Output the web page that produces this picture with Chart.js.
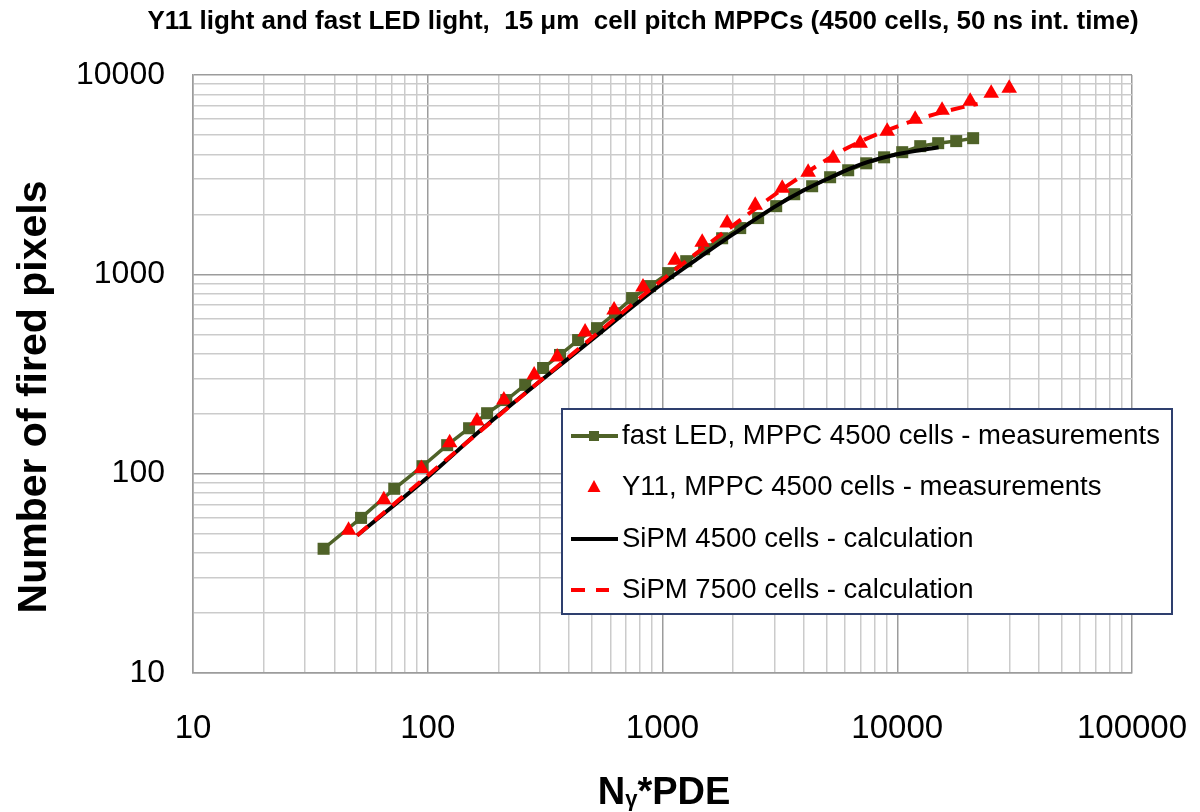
<!DOCTYPE html>
<html>
<head>
<meta charset="utf-8">
<script src="https://cdn.jsdelivr.net/npm/chart.js@4"></script>
<style>
  html, body { margin: 0; padding: 0; background: #fff; }
</style>
</head>
<body>
<canvas id="firedChart" width="1200" height="812"></canvas>
<script>
// fast LED, MPPC 4500 cells - measurements
const fastLedX = [36, 52, 72, 95, 121, 150, 179, 216, 260, 310, 366, 437, 526, 628, 742, 885, 1057, 1262, 1504, 1795, 2143, 2555, 3050, 3640, 4340, 5177, 6180, 7375, 8790, 10500, 12530, 14940, 17830, 21050];
const fastLedY = [42, 60, 84, 109, 139, 169, 201, 234, 279, 339, 394, 468, 537, 638, 760, 873, 1014, 1164, 1337, 1517, 1706, 1915, 2198, 2523, 2767, 3070, 3327, 3606, 3864, 4100, 4395, 4550, 4660, 4820];

// Y11, MPPC 4500 cells - measurements
const y11X = [46, 65, 94, 124, 162, 211, 284, 356, 468, 622, 826, 1132, 1476, 1885, 2483, 3236, 4172, 5330, 6950, 9060, 11920, 15520, 20450, 25130, 29980];
const y11Y = [52, 74, 106, 143, 184, 234, 313, 385, 513, 662, 863, 1178, 1449, 1807, 2221, 2706, 3251, 3820, 4546, 5225, 5998, 6656, 7386, 8090, 8577];

// SiPM 4500 cells - calculation
const calc4500X = [50, 100, 167, 300, 500, 800, 1000, 1500, 2000, 3000, 4000, 5000, 7000, 10000, 15000];
const calc4500Y = [49, 96, 164, 290, 470, 735, 900, 1260, 1590, 2180, 2640, 3000, 3560, 4000, 4340];

// SiPM 7500 cells - calculation
const calc7500X = [50, 100, 200, 500, 1000, 2000, 3500, 6000, 11000, 19000, 22000];
const calc7500Y = [49, 98, 195, 480, 940, 1760, 2850, 4250, 5750, 6900, 7150];

const xMajorTicks = [10, 100, 1000, 10000, 100000];
const yMajorTicks = [10, 100, 1000, 10000];

const chartTitle = 'Y11 light and fast LED light,  15 \u03bcm  cell pitch MPPCs (4500 cells, 50 ns int. time)';
const yTitle = 'Number of fired pixels';

const FONT = "'Liberation Sans', Arial, Helvetica, sans-serif";
const OLIVE = '#4F6228';
const RED = '#FF0000';

const toPoints = (xs, ys) => xs.map((x, i) => ({ x: x, y: ys[i] }));

// 1..9 per decade, like the log grid in the picture
function logGrid(min, max) {
  const ticks = [];
  for (let d = min; d < max; d *= 10) {
    for (let k = 1; k < 10; k++) ticks.push({ value: d * k });
  }
  ticks.push({ value: max });
  return ticks;
}

function gridColor(majors) {
  return ctx => majors.includes(ctx.tick && ctx.tick.value) ? '#9c9c9c' : '#cbcbcb';
}

const series = [
  { label: 'fast LED, MPPC 4500 cells - measurements', kind: 'lineRect', color: OLIVE },
  { label: 'Y11, MPPC 4500 cells - measurements', kind: 'triangle', color: RED },
  { label: 'SiPM 4500 cells - calculation', kind: 'line', color: '#000' },
  { label: 'SiPM 7500 cells - calculation', kind: 'dash', color: RED }
];

const textPlugin = {
  id: 'textPlugin',
  afterDraw(chart) {
    const ctx = chart.ctx;
    ctx.save();
    ctx.fillStyle = '#000';

    // title
    ctx.textAlign = 'center';
    ctx.textBaseline = 'middle';
    ctx.font = 'bold 26px ' + FONT;
    ctx.fillText(chartTitle, 643, 22);

    // y axis title
    ctx.save();
    ctx.translate(35, 397);
    ctx.rotate(-Math.PI / 2);
    ctx.font = 'bold 41px ' + FONT;
    ctx.fillText(yTitle, 0, 0);
    ctx.restore();

    // x axis title: N, subscript gamma, *PDE
    ctx.textAlign = 'left';
    ctx.textBaseline = 'alphabetic';
    const big = 'bold 38px ' + FONT;
    const small = 'bold 22px ' + FONT;
    ctx.font = big;
    const wN = ctx.measureText('N').width;
    const wRest = ctx.measureText('*PDE').width;
    ctx.font = small;
    const wG = ctx.measureText('\u03b3').width;
    let x0 = 664 - (wN + wG + wRest) / 2;
    ctx.font = big;
    ctx.fillText('N', x0, 804);
    ctx.font = small;
    ctx.fillText('\u03b3', x0 + wN, 806);
    ctx.font = big;
    ctx.fillText('*PDE', x0 + wN + wG, 804);

    // legend
    const box = { x: 562, y: 409, w: 610, h: 205 };
    ctx.fillStyle = '#fff';
    ctx.fillRect(box.x, box.y, box.w, box.h);
    ctx.strokeStyle = '#2E3F6E';
    ctx.lineWidth = 2;
    ctx.strokeRect(box.x, box.y, box.w, box.h);

    const rows = [436, 487, 539, 590];
    ctx.font = '27.5px ' + FONT;
    ctx.textBaseline = 'middle';
    series.forEach((s, i) => {
      const y = rows[i];
      ctx.strokeStyle = s.color;
      ctx.fillStyle = s.color;
      ctx.lineWidth = 4;
      if (s.kind === 'lineRect' || s.kind === 'line') {
        ctx.beginPath();
        ctx.moveTo(571, y);
        ctx.lineTo(618, y);
        ctx.stroke();
        if (s.kind === 'lineRect') ctx.fillRect(589, y - 5, 10, 10);
      } else if (s.kind === 'dash') {
        ctx.beginPath();
        ctx.moveTo(571, y); ctx.lineTo(585, y);
        ctx.moveTo(596, y); ctx.lineTo(609, y);
        ctx.stroke();
      } else {
        ctx.beginPath();
        ctx.moveTo(594, y - 7);
        ctx.lineTo(600.5, y + 5);
        ctx.lineTo(587.5, y + 5);
        ctx.closePath();
        ctx.fill();
      }
      ctx.fillStyle = '#000';
      ctx.fillText(s.label, 622, y);
    });
    ctx.restore();
  }
};

new Chart(document.getElementById('firedChart'), {
  type: 'scatter',
  data: {
    datasets: [
      {
        label: series[3].label,
        data: toPoints(calc7500X, calc7500Y),
        showLine: true,
        borderColor: RED,
        borderWidth: 4,
        borderDash: [14, 9],
        pointRadius: 0,
        cubicInterpolationMode: 'monotone',
        order: 1
      },
      {
        label: series[2].label,
        data: toPoints(calc4500X, calc4500Y),
        showLine: true,
        borderColor: '#000',
        borderWidth: 4,
        pointRadius: 0,
        cubicInterpolationMode: 'monotone',
        order: 2
      },
      {
        label: series[1].label,
        data: toPoints(y11X, y11Y),
        showLine: false,
        pointStyle: 'triangle',
        pointRadius: 9,
        pointBorderWidth: 0,
        backgroundColor: RED,
        borderColor: RED,
        order: 3
      },
      {
        label: series[0].label,
        data: toPoints(fastLedX, fastLedY),
        showLine: true,
        borderColor: OLIVE,
        borderWidth: 3.5,
        backgroundColor: OLIVE,
        pointStyle: 'rect',
        pointRadius: 8.5,
        pointBorderWidth: 0,
        order: 4
      }
    ]
  },
  options: {
    responsive: false,
    animation: false,
    devicePixelRatio: 1,
    layout: { padding: { top: 75, right: 68, bottom: 0, left: 0 } },
    plugins: {
      legend: { display: false },
      tooltip: { enabled: false },
      title: { display: false }
    },
    scales: {
      x: {
        type: 'logarithmic',
        min: 10,
        max: 100000,
        afterBuildTicks: s => { s.ticks = logGrid(10, 100000); },
        afterFit: s => { s.height = 139; s.paddingLeft = 0; s.paddingRight = 0; },
        grid: { color: gridColor(xMajorTicks), lineWidth: 1.5, drawTicks: false },
        border: { color: '#9c9c9c', width: 1.5 },
        ticks: {
          autoSkip: false,
          maxRotation: 0,
          padding: 36,
          color: '#000',
          font: { family: FONT, size: 33 },
          callback: v => xMajorTicks.includes(v) ? String(v) : ''
        }
      },
      y: {
        type: 'logarithmic',
        min: 10,
        max: 10000,
        afterBuildTicks: s => { s.ticks = logGrid(10, 10000); },
        afterFit: s => { s.width = 193; s.paddingTop = 0; s.paddingBottom = 0; },
        grid: { color: gridColor(yMajorTicks), lineWidth: 1.5, drawTicks: false },
        border: { color: '#9c9c9c', width: 1.5 },
        ticks: {
          autoSkip: false,
          padding: 28,
          color: '#000',
          font: { family: FONT, size: 32 },
          callback: v => yMajorTicks.includes(v) ? String(v) : ''
        }
      }
    }
  },
  plugins: [textPlugin]
});
</script>
</body>
</html>
